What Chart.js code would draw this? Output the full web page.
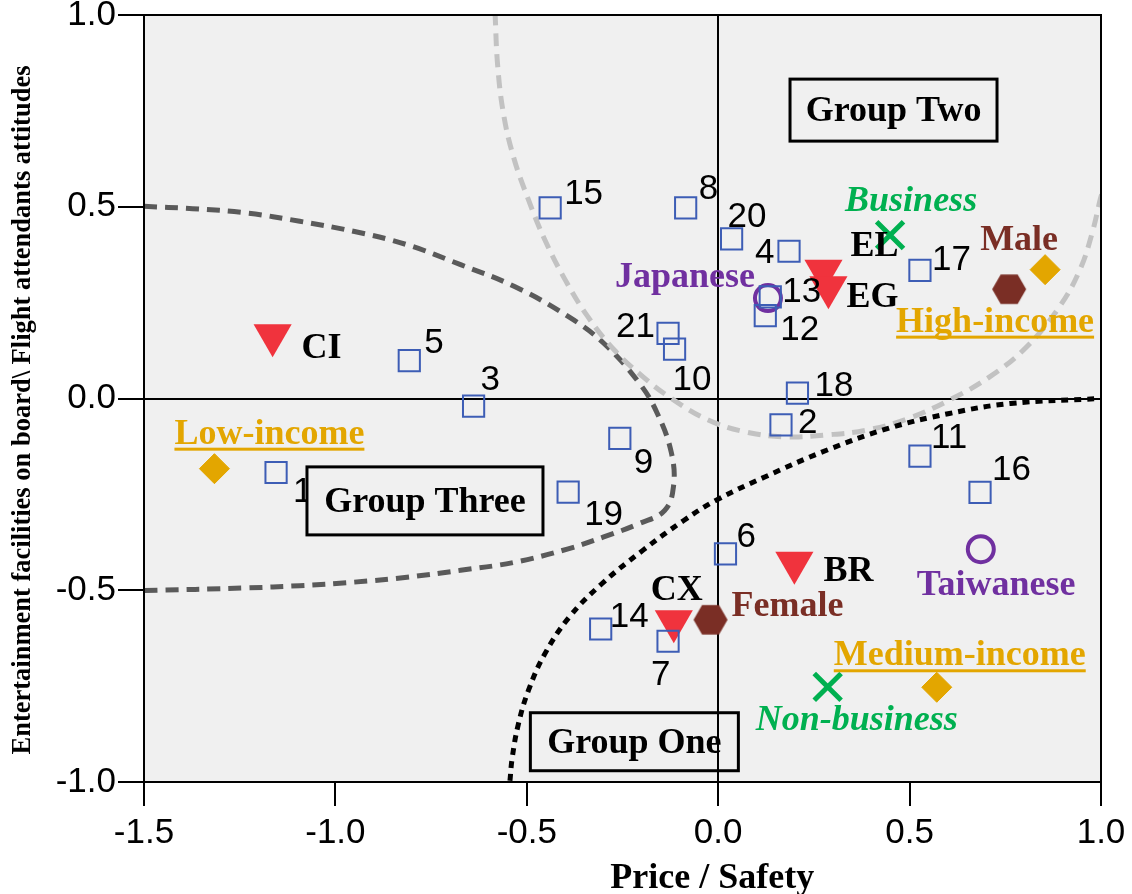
<!DOCTYPE html>
<html>
<head>
<meta charset="utf-8">
<script src="https://cdn.jsdelivr.net/npm/chart.js@4.4.1/dist/chart.umd.min.js"></script>
<style>
  body { margin: 0; background: #fff; }
  #wrap { width: 1132px; height: 894px; }
</style>
</head>
<body>
<div id="wrap"><canvas id="mapChart" width="1132" height="894"></canvas></div>
<script>
// ticks
const xTicks = [-1.5, -1.0, -0.5, 0.0, 0.5, 1.0];
const yTicks = [-1.0, -0.5, 0.0, 0.5, 1.0];
const xTitle = "Price / Safety";
const yTitle = "Entertainment facilities on board\\ Flight attendants attitudes";

// numbered items (squares)
const itemIds = ["1","2","3","4","5","6","7","8","9","10","11","12","13","14","15","16","17","18","19","20","21"];
const itemX = [-1.155, 0.164, -0.639, 0.185, -0.807, 0.019, -0.131, -0.085, -0.257, -0.114, 0.527, 0.123, 0.136, -0.307, -0.439, 0.684, 0.527, 0.207, -0.392, 0.035, -0.131];
const itemY = [-0.193, -0.069, -0.020, 0.384, 0.099, -0.405, -0.633, 0.497, -0.104, 0.129, -0.150, 0.216, 0.265, -0.601, 0.497, -0.245, 0.334, 0.014, -0.244, 0.416, 0.170];

// airlines (triangles)
const airlines = ["CI", "EL", "EG", "BR", "CX"];
const airlineX = [-1.164, 0.275, 0.288, 0.199, -0.116];
const airlineY = [0.165, 0.333, 0.290, -0.428, -0.581];

// gender (hexagons)
const genders = ["Male", "Female"];
const genderX = [0.760, -0.020];
const genderY = [0.285, -0.577];

// income (diamonds)
const incomes = ["High-income", "Low-income", "Medium-income"];
const incomeX = [0.854, -1.316, 0.571];
const incomeY = [0.336, -0.183, -0.753];

// nationality (circles)
const nations = ["Japanese", "Taiwanese"];
const nationX = [0.130, 0.686];
const nationY = [0.262, -0.393];

// travel purpose (crosses)
const purposes = ["Business", "Non-business"];
const purposeX = [0.449, 0.286];
const purposeY = [0.426, -0.752];

// group boundaries
const groupOneX = [-0.544, -0.538, -0.522, -0.496, -0.453, -0.389, -0.304, -0.197, -0.090, -0.005, 0.123, 0.283, 0.444, 0.604, 0.764, 0.998];
const groupOneY = [-0.997, -0.936, -0.849, -0.762, -0.666, -0.570, -0.483, -0.396, -0.318, -0.265, -0.204, -0.135, -0.078, -0.039, -0.013, 0.000];

const groupTwoX = [-0.583, -0.576, -0.560, -0.533, -0.496, -0.453, -0.400, -0.341, -0.272, -0.197, -0.122, -0.026, 0.070, 0.177, 0.283, 0.390, 0.497, 0.604, 0.710, 0.806, 0.892, 0.945, 0.977, 0.998, 1.004];
const groupTwoY = [1.007, 0.867, 0.737, 0.624, 0.519, 0.414, 0.310, 0.214, 0.127, 0.057, 0.000, -0.056, -0.087, -0.100, -0.095, -0.082, -0.052, -0.004, 0.057, 0.135, 0.240, 0.336, 0.432, 0.519, 0.540];

const groupThreeX = [-1.500, -1.373, -1.233, -1.093, -0.953, -0.813, -0.673, -0.532, -0.392, -0.299, -0.206, -0.159, -0.122, -0.117, -0.140, -0.206, -0.299, -0.392, -0.532, -0.673, -0.813, -0.953, -1.093, -1.233, -1.500];
const groupThreeY = [0.501, 0.495, 0.484, 0.462, 0.436, 0.401, 0.349, 0.292, 0.214, 0.144, 0.040, -0.039, -0.143, -0.231, -0.292, -0.326, -0.361, -0.392, -0.427, -0.448, -0.466, -0.479, -0.488, -0.494, -0.501];

// group boxes
const groupNames = ["Group Two", "Group Three", "Group One"];
const groupCX = [0.458, -0.766, -0.219];
const groupCY = [0.752, -0.267, -0.895];

function pts(xs, ys) {
  return xs.map((x, i) => ({ x: x, y: ys[i] }));
}

// hexagon marker
function hexagon(color) {
  const c = document.createElement("canvas");
  c.width = 36; c.height = 32;
  const g = c.getContext("2d");
  g.fillStyle = color;
  g.beginPath();
  for (let k = 0; k < 6; k++) {
    const a = k * Math.PI / 3;
    const px = 18 + 17 * Math.cos(a), py = 16 + 17 * Math.sin(a);
    if (k === 0) g.moveTo(px, py); else g.lineTo(px, py);
  }
  g.closePath();
  g.fill();
  return c;
}

const BLUE = "#3d5db5", RED = "#f0333d", BROWN = "#7a2e25", GOLD = "#e3a600", PURPLE = "#7030a0", GREEN = "#00b050";

// label offsets in px from the marker: [dx, dy]
const numOffsets = {
  "1": [17, 29], "2": [17, 8], "3": [7, -16], "4": [-34, 12], "5": [15, -8], "6": [11, -7],
  "7": [-17, 44], "8": [13, -9], "9": [14, 35], "10": [-2, 41], "11": [11, -8], "12": [15, 24],
  "13": [12, 5], "14": [9, -2], "15": [14, -4], "16": [12, -12], "17": [12, 0], "18": [17, 3],
  "19": [16, 33], "20": [-4, -12], "21": [-52, 4]
};
const catOffsets = {
  "CI": [29, 23], "EL": [27, -15], "EG": [18, 20], "BR": [29, 18], "CX": [-23, -21],
  "Male": [-29, -39], "Female": [21, -4],
  "High-income": [-149, 62], "Low-income": [-40, -25], "Medium-income": [-103, -22],
  "Japanese": [-153, -11], "Taiwanese": [-64, 46],
  "Business": [-45, -24], "Non-business": [-72, 43]
};
const groupBoxSize = { "Group Two": [207, 62], "Group Three": [236, 68], "Group One": [208, 58] };

const SERIF = '"Liberation Serif", "Times New Roman", serif';
const SANS = '"Liberation Sans", Arial, sans-serif';

const frame = {
  id: "frame",
  beforeDraw(chart) {
    const { ctx, chartArea: a } = chart;
    ctx.save();
    ctx.fillStyle = "#f0f0f0";
    ctx.fillRect(a.left, a.top, a.right - a.left, a.bottom - a.top);
    ctx.restore();
  },
  afterDatasetsDraw(chart) {
    const { ctx, chartArea: a, scales } = chart;
    const xs = scales.x, ys = scales.y;
    ctx.save();
    ctx.textAlign = "left";
    ctx.textBaseline = "alphabetic";

    // number labels
    ctx.font = "35px " + SANS;
    ctx.fillStyle = "#000";
    itemIds.forEach((id, i) => {
      const o = numOffsets[id];
      ctx.fillText(id, xs.getPixelForValue(itemX[i]) + o[0], ys.getPixelForValue(itemY[i]) + o[1]);
    });

    function cat(names, xv, yv, color, italic, underline) {
      ctx.font = (italic ? "italic " : "") + "bold 36px " + SERIF;
      ctx.fillStyle = color;
      names.forEach((n, i) => {
        const o = catOffsets[n];
        const tx = xs.getPixelForValue(xv[i]) + o[0];
        const ty = ys.getPixelForValue(yv[i]) + o[1];
        ctx.fillText(n, tx, ty);
        if (underline) {
          const w = ctx.measureText(n).width;
          ctx.fillRect(tx, ty + 4, w, 3);
        }
      });
    }
    cat(airlines, airlineX, airlineY, "#000", false, false);
    cat(genders, genderX, genderY, BROWN, false, false);
    cat(incomes, incomeX, incomeY, GOLD, false, true);
    cat(nations, nationX, nationY, PURPLE, false, false);
    cat(purposes, purposeX, purposeY, GREEN, true, false);

    // group boxes
    ctx.font = "bold 36px " + SERIF;
    ctx.textAlign = "center";
    ctx.textBaseline = "middle";
    groupNames.forEach((n, i) => {
      const [w, h] = groupBoxSize[n];
      const cx = xs.getPixelForValue(groupCX[i]), cy = ys.getPixelForValue(groupCY[i]);
      if (n !== "Group One") {
        ctx.fillStyle = "#f0f0f0";
        ctx.fillRect(cx - w / 2, cy - h / 2, w, h);
      }
      ctx.strokeStyle = "#000";
      ctx.lineWidth = 3;
      ctx.strokeRect(cx - w / 2, cy - h / 2, w, h);
      ctx.fillStyle = "#000";
      ctx.fillText(n, cx, cy + 2);
    });

    // outer frame
    ctx.strokeStyle = "#000";
    ctx.lineWidth = 2;
    ctx.strokeRect(a.left, a.top, a.right - a.left, a.bottom - a.top);

    // axis titles
    ctx.fillStyle = "#000";
    ctx.textAlign = "center";
    ctx.textBaseline = "alphabetic";
    ctx.font = "bold 36px " + SERIF;
    ctx.fillText(xTitle, xs.getPixelForValue(0) - 6, 888);
    ctx.save();
    ctx.translate(30, ys.getPixelForValue(-0.03));
    ctx.rotate(-Math.PI / 2);
    ctx.font = "bold 26.5px " + SERIF;
    ctx.fillText(yTitle, 0, 0);
    ctx.restore();
    ctx.restore();
  }
};

const curveStyle = { showLine: true, pointRadius: 0, tension: 0.4, fill: false, borderWidth: 5 };

const ctx = document.getElementById("mapChart").getContext("2d");
const mapChart = new Chart(ctx, {
  type: "scatter",
  data: {
    datasets: [
      { label: "items", data: pts(itemX, itemY), pointStyle: "rect", pointRadius: 15, backgroundColor: "rgba(0,0,0,0)", borderColor: BLUE, borderWidth: 2 },
      { label: "airlines", data: pts(airlineX, airlineY), pointStyle: "triangle", rotation: 180, pointRadius: 22, backgroundColor: RED, borderWidth: 0 },
      { label: "gender", data: pts(genderX, genderY), pointStyle: hexagon(BROWN), pointRadius: 17 },
      { label: "income", data: pts(incomeX, incomeY), pointStyle: "rectRot", pointRadius: 15, backgroundColor: GOLD, borderColor: GOLD, borderWidth: 1 },
      { label: "nationality", data: pts(nationX, nationY), pointStyle: "circle", pointRadius: 13, backgroundColor: "rgba(0,0,0,0)", borderColor: PURPLE, borderWidth: 4 },
      { label: "purpose", data: pts(purposeX, purposeY), pointStyle: "crossRot", pointRadius: 19, borderColor: GREEN, borderWidth: 5 },
      Object.assign({ label: "Group One", data: pts(groupOneX, groupOneY), borderColor: "#000", borderDash: [7, 6] }, curveStyle),
      Object.assign({ label: "Group Two", data: pts(groupTwoX, groupTwoY), borderColor: "#c2c2c2", borderDash: [13, 8] }, curveStyle),
      Object.assign({ label: "Group Three", data: pts(groupThreeX, groupThreeY), borderColor: "#5a5a5a", borderDash: [13, 8] }, curveStyle)
    ]
  },
  options: {
    responsive: false,
    animation: false,
    layout: { autoPadding: false, padding: { top: 15, right: 31, left: 0, bottom: 0 } },
    plugins: { legend: { display: false }, tooltip: { enabled: false } },
    scales: {
      x: {
        type: "linear", min: -1.5, max: 1.0,
        afterBuildTicks: s => { s.ticks = xTicks.map(v => ({ value: v })); },
        afterFit: s => { s.height = 112; s.paddingLeft = 0; s.paddingRight = 0; },
        grid: { color: c => c.tick && c.tick.value === 0 ? "#000" : "rgba(0,0,0,0)", lineWidth: 2, tickColor: "#000", tickLength: 24 },
        border: { color: "#000", width: 2 },
        ticks: { color: "#000", font: { family: SANS, size: 35 }, padding: 6, maxRotation: 0, callback: v => Number(v).toFixed(1) }
      },
      y: {
        type: "linear", min: -1.0, max: 1.0,
        afterBuildTicks: s => { s.ticks = yTicks.map(v => ({ value: v })); },
        afterFit: s => { s.width = 144; s.paddingTop = 0; s.paddingBottom = 0; },
        grid: { color: c => c.tick && c.tick.value === 0 ? "#000" : "rgba(0,0,0,0)", lineWidth: 2, tickColor: "#000", tickLength: 26 },
        border: { color: "#000", width: 2 },
        ticks: { color: "#000", font: { family: SANS, size: 35 }, padding: 2, callback: v => Number(v).toFixed(1) }
      }
    }
  },
  plugins: [frame]
});
</script>
</body>
</html>
